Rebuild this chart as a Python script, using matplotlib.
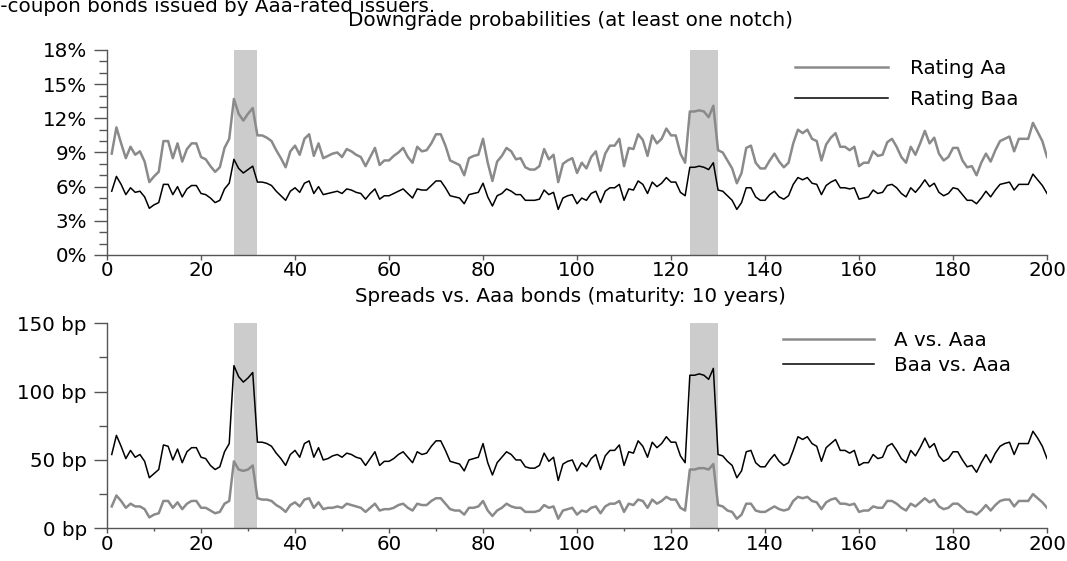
import matplotlib
matplotlib.use("Agg")
import matplotlib.pyplot as plt
import numpy as np
from matplotlib.ticker import MultipleLocator, FixedLocator

# 数据
months = np.arange(1, 201)

# downgrade probabilities, in %
rating_aa = [
    8.9, 11.2, 9.8, 8.5, 9.5, 8.8, 9.1, 8.2, 6.4, 6.9,
    7.3, 10.0, 10.0, 8.5, 9.8, 8.2, 9.3, 9.8, 9.8, 8.6,
    8.4, 7.8, 7.3, 7.7, 9.4, 10.2, 13.7, 12.4, 11.8, 12.4,
    12.9, 10.5, 10.5, 10.3, 10.0, 9.2, 8.5, 7.7, 9.1, 9.6,
    8.8, 10.2, 10.6, 8.7, 9.8, 8.5, 8.7, 8.9, 9.0, 8.6,
    9.3, 9.1, 8.8, 8.6, 7.8, 8.6, 9.4, 7.9, 8.3, 8.3,
    8.7, 9.0, 9.4, 8.6, 8.1, 9.5, 9.1, 9.2, 9.8, 10.6,
    10.6, 9.6, 8.3, 8.1, 7.9, 7.0, 8.5, 8.7, 8.8, 10.2,
    8.1, 6.5, 8.2, 8.7, 9.4, 9.1, 8.4, 8.5, 7.7, 7.5,
    7.5, 7.8, 9.3, 8.4, 8.8, 6.4, 8.0, 8.3, 8.5, 7.2,
    8.1, 7.6, 8.6, 9.1, 7.4, 8.9, 9.6, 9.6, 10.2, 7.8,
    9.4, 9.3, 10.6, 10.1, 8.7, 10.5, 9.8, 10.2, 11.1, 10.5,
    10.5, 8.9, 8.1, 12.6, 12.6, 12.7, 12.6, 12.1, 13.1, 9.2,
    9.0, 8.3, 7.6, 6.3, 7.2, 9.4, 9.6, 8.1, 7.6, 7.6,
    8.3, 8.9, 8.2, 7.7, 8.1, 9.8, 11.0, 10.7, 11.0, 10.2,
    10.0, 8.3, 9.7, 10.3, 10.7, 9.5, 9.5, 9.2, 9.5, 7.8,
    8.1, 8.1, 9.1, 8.7, 8.8, 9.9, 10.2, 9.5, 8.6, 8.1,
    9.5, 8.8, 9.8, 10.9, 9.8, 10.3, 8.9, 8.3, 8.6, 9.4,
    9.4, 8.3, 7.7, 7.8, 7.0, 8.1, 8.9, 8.2, 9.2, 10.0,
    10.2, 10.4, 9.1, 10.2, 10.2, 10.2, 11.6, 10.8, 10.0, 8.6,
]
rating_baa = [
    5.6, 6.9, 6.2, 5.3, 5.9, 5.5, 5.6, 5.1, 4.1, 4.4,
    4.6, 6.2, 6.2, 5.3, 6.0, 5.1, 5.8, 6.1, 6.1, 5.4,
    5.3, 5.0, 4.6, 4.8, 5.8, 6.3, 8.4, 7.6, 7.2, 7.5,
    7.8, 6.4, 6.4, 6.3, 6.1, 5.6, 5.2, 4.8, 5.6, 5.9,
    5.5, 6.3, 6.5, 5.4, 6.0, 5.3, 5.4, 5.5, 5.6, 5.4,
    5.8, 5.7, 5.5, 5.4, 4.9, 5.4, 5.8, 4.9, 5.2, 5.2,
    5.4, 5.6, 5.8, 5.4, 5.0, 5.8, 5.7, 5.7, 6.1, 6.5,
    6.5, 5.9, 5.2, 5.1, 5.0, 4.5, 5.3, 5.4, 5.5, 6.3,
    5.1, 4.3, 5.2, 5.4, 5.8, 5.6, 5.3, 5.3, 4.8, 4.8,
    4.8, 4.9, 5.7, 5.3, 5.5, 4.0, 5.0, 5.2, 5.3, 4.5,
    5.0, 4.8, 5.4, 5.6, 4.6, 5.6, 5.9, 5.9, 6.2, 4.8,
    5.8, 5.7, 6.5, 6.2, 5.4, 6.4, 6.0, 6.3, 6.8, 6.4,
    6.4, 5.5, 5.2, 7.7, 7.7, 7.8, 7.7, 7.5, 8.1, 5.7,
    5.6, 5.2, 4.8, 4.0, 4.6, 5.9, 5.9, 5.1, 4.8, 4.8,
    5.3, 5.6, 5.1, 4.9, 5.2, 6.2, 6.8, 6.6, 6.8, 6.3,
    6.2, 5.3, 6.1, 6.4, 6.6, 5.9, 5.9, 5.8, 5.9, 4.9,
    5.0, 5.1, 5.7, 5.4, 5.5, 6.1, 6.2, 5.9, 5.4, 5.1,
    5.9, 5.5, 6.0, 6.6, 6.0, 6.3, 5.5, 5.2, 5.4, 5.9,
    5.8, 5.3, 4.8, 4.8, 4.5, 5.0, 5.6, 5.1, 5.7, 6.2,
    6.3, 6.4, 5.7, 6.2, 6.2, 6.2, 7.1, 6.6, 6.1, 5.4,
]

# spreads vs. Aaa, in bp
spread_a = [
    16, 24, 20, 15, 18, 16, 16, 14, 8, 10,
    11, 20, 20, 15, 19, 14, 18, 20, 20, 15,
    15, 13, 11, 12, 18, 20, 49, 43, 42, 43,
    46, 22, 21, 21, 20, 17, 15, 12, 17, 19,
    16, 21, 22, 15, 19, 14, 15, 15, 16, 15,
    18, 17, 16, 15, 12, 15, 18, 13, 14, 14,
    15, 17, 18, 15, 13, 18, 17, 17, 20, 22,
    22, 18, 14, 13, 13, 10, 15, 15, 16, 20,
    13, 9, 13, 15, 18, 16, 15, 15, 12, 12,
    12, 13, 17, 15, 16, 7, 13, 14, 15, 10,
    13, 12, 15, 16, 11, 16, 18, 18, 20, 12,
    18, 17, 21, 20, 15, 21, 18, 20, 23, 21,
    21, 15, 13, 43, 43, 44, 44, 43, 47, 17,
    16, 13, 12, 7, 10, 18, 18, 13, 12, 12,
    14, 16, 14, 13, 14, 20, 23, 22, 23, 20,
    19, 14, 19, 21, 22, 18, 18, 17, 18, 12,
    13, 13, 16, 15, 15, 20, 20, 18, 15, 13,
    18, 16, 19, 22, 19, 21, 16, 14, 15, 18,
    18, 15, 12, 12, 10, 13, 17, 13, 17, 20,
    21, 21, 16, 20, 20, 20, 25, 22, 19, 15,
]
spread_baa = [
    54, 68, 60, 51, 57, 52, 54, 49, 37, 40,
    43, 61, 60, 50, 58, 48, 56, 59, 59, 52,
    51, 46, 43, 45, 56, 62, 119, 111, 107, 110,
    114, 63, 63, 62, 60, 55, 51, 46, 54, 57,
    52, 62, 64, 52, 59, 50, 51, 53, 54, 52,
    55, 54, 52, 51, 46, 51, 56, 46, 49, 49,
    51, 54, 56, 52, 48, 56, 54, 55, 60, 64,
    64, 57, 49, 48, 47, 42, 50, 51, 52, 62,
    48, 39, 48, 52, 56, 54, 50, 50, 45, 44,
    44, 46, 55, 49, 52, 35, 47, 49, 50, 42,
    48, 45, 51, 54, 43, 53, 57, 57, 61, 46,
    56, 55, 64, 60, 52, 63, 59, 62, 67, 63,
    63, 53, 48, 112, 112, 113, 112, 109, 117, 54,
    53, 49, 46, 37, 42, 56, 57, 48, 45, 45,
    50, 54, 49, 46, 48, 57, 67, 65, 67, 62,
    60, 49, 59, 62, 65, 57, 57, 55, 57, 46,
    48, 48, 54, 51, 52, 60, 62, 57, 51, 48,
    57, 53, 59, 66, 59, 62, 53, 49, 51, 56,
    56, 50, 45, 46, 41, 48, 54, 48, 55, 60,
    62, 63, 54, 62, 62, 62, 71, 66, 60, 51,
]

# shaded periods
shade_periods = [(27, 32), (124, 130)]

plt.rcParams['font.family'] = ['DejaVu Sans']
fs = 14.3

fig = plt.figure(figsize=(10.67, 5.61), dpi=100)

gray = '#8a8a8a'
spine_color = '#555555'
shade = '#cccccc'


def style_axes(ax, minor_x):
    ax.spines['top'].set_visible(False)
    ax.spines['right'].set_visible(False)
    for s in ('left', 'bottom'):
        ax.spines[s].set_color(spine_color)
        ax.spines[s].set_linewidth(1.0)
    ax.set_xlim(0, 200)
    ax.xaxis.set_major_locator(MultipleLocator(20))
    if minor_x:
        ax.xaxis.set_minor_locator(MultipleLocator(10))
    ax.tick_params(axis='x', which='major', direction='out', length=3.6,
                   width=1, color=spine_color, pad=1, labelsize=fs)
    ax.tick_params(axis='x', which='minor', direction='out', length=2.2,
                   width=1, color=spine_color)
    ax.tick_params(axis='y', which='major', direction='out', length=9.5,
                   width=1, color=spine_color, pad=5, labelsize=fs)
    ax.tick_params(axis='y', which='minor', direction='out', length=5.8,
                   width=1, color=spine_color)
    for a, b in shade_periods:
        ax.axvspan(a, b, color=shade, lw=0, zorder=0)


# 上图
ax1 = fig.add_axes([0.1003, 0.5455, 0.881, 0.3654])
style_axes(ax1, False)
ax1.plot(months, rating_aa, color=gray, lw=1.8, label='Rating Aa', zorder=2)
ax1.plot(months, rating_baa, color='black', lw=1.1, label='Rating Baa', zorder=3)
ax1.set_ylim(0, 18)
ax1.yaxis.set_major_locator(FixedLocator([0, 3, 6, 9, 12, 15, 18]))
ax1.yaxis.set_minor_locator(MultipleLocator(1))
ax1.set_yticklabels(['%d%%' % v for v in [0, 3, 6, 9, 12, 15, 18]])
ax1.legend(loc='upper left', bbox_to_anchor=(795 / 1067, 1 - 59 / 561),
           bbox_transform=fig.transFigure, frameon=False, fontsize=fs,
           handlelength=4.7, handletextpad=1.1, labelspacing=0.62,
           borderpad=0, borderaxespad=0)

# 下图
ax2 = fig.add_axes([0.1003, 0.0583, 0.881, 0.3654])
style_axes(ax2, True)
ax2.plot(months, spread_a, color=gray, lw=1.8, label='A vs. Aaa', zorder=2)
ax2.plot(months, spread_baa, color='black', lw=1.1, label='Baa vs. Aaa', zorder=3)
ax2.set_ylim(0, 150)
ax2.yaxis.set_major_locator(FixedLocator([0, 50, 100, 150]))
ax2.yaxis.set_minor_locator(MultipleLocator(25))
ax2.set_yticklabels(['%d bp' % v for v in [0, 50, 100, 150]])
ax2.legend(loc='upper left', bbox_to_anchor=(783 / 1067, 1 - 331 / 561),
           bbox_transform=fig.transFigure, frameon=False, fontsize=fs,
           handlelength=4.6, handletextpad=1.0, labelspacing=0.3,
           borderpad=0, borderaxespad=0)

# 标题
fig.text(570 / 1067, 1 - 26 / 561, 'Downgrade probabilities (at least one notch)',
         ha='center', va='baseline', fontsize=fs)
fig.text(570 / 1067, 1 - 302 / 561, 'Spreads vs. Aaa bonds (maturity: 10 years)',
         ha='center', va='baseline', fontsize=fs)
# caption line above the chart, partly outside the picture as in the reference
fig.text(435 / 1067, 1 - 12.5 / 561, 'Zero-coupon bonds issued by Aaa-rated issuers.',
         ha='right', va='baseline', fontsize=fs)

plt.savefig('out.png', dpi=100)
